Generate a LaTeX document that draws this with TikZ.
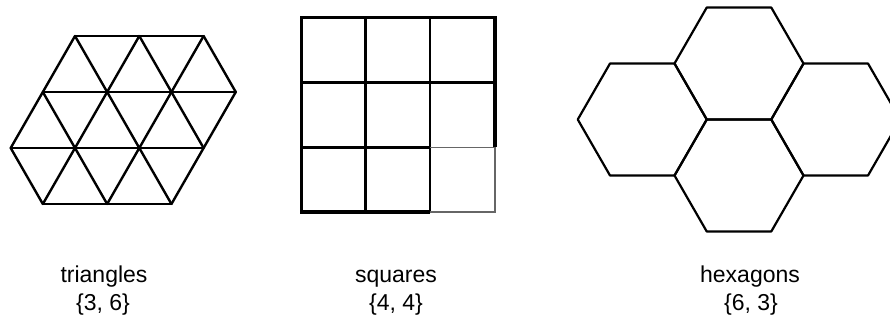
\documentclass[tikz,border=0pt]{standalone}
\usepackage{fontspec}
\setmainfont{Liberation Sans}
\begin{document}
\begin{tikzpicture}[x=1pt,y=-1pt,
  tri/.style={line width=2.4pt,line join=round,line cap=round},
  sqout/.style={line width=3.2pt,line join=miter},
  sqin/.style={line width=2.4pt},
  sqfaint/.style={line width=1.6pt,black!60},
  hexline/.style={line width=2.2pt,line join=round},
  lbl/.style={font=\fontsize{23}{28}\selectfont,anchor=base,inner sep=0pt}]
\useasboundingbox (0,0) rectangle (890,320);
\clip (0,0) rectangle (890,320);
% ---------- triangles {3,6}
\coordinate (A0) at (75,36);     \coordinate (A1) at (139.3,36);  \coordinate (A2) at (203.6,36);
\coordinate (B0) at (42.85,92);  \coordinate (B1) at (107.15,92); \coordinate (B2) at (171.45,92); \coordinate (B3) at (235.75,92);
\coordinate (C0) at (10.7,148);  \coordinate (C1) at (75,148);    \coordinate (C2) at (139.3,148); \coordinate (C3) at (203.6,148);
\coordinate (D0) at (42.85,204); \coordinate (D1) at (107.15,204); \coordinate (D2) at (171.45,204);
\draw[tri] (A0) -- (A2);
\draw[tri] (B0) -- (B3);
\draw[tri] (C0) -- (C3);
\draw[tri] (D0) -- (D2);
\draw[tri] (C0) -- (D0);
\draw[tri] (B0) -- (C1) -- (D1);
\draw[tri] (A0) -- (B1) -- (C2) -- (D2);
\draw[tri] (A1) -- (B2) -- (C3);
\draw[tri] (A2) -- (B3);
\draw[tri] (A0) -- (B0) -- (C0);
\draw[tri] (A1) -- (B1) -- (C1) -- (D0);
\draw[tri] (A2) -- (B2) -- (C2) -- (D1);
\draw[tri] (B3) -- (C3) -- (D2);
% ---------- squares {4,4}
\draw[sqin] (365.5,17.5) -- (365.5,212);
\draw[sqin] (430,17.5) -- (430,212);
\draw[sqin] (301.5,82.5) -- (495,82.5);
\draw[sqin] (301.5,147.5) -- (430,147.5);
\draw[sqfaint] (430,147.5) -- (495,147.5);
\draw[sqfaint] (495,147.5) -- (495,212) -- (430,212);
\draw[sqout] (430,212) -- (301.5,212) -- (301.5,17.5) -- (495,17.5) -- (495,147.5);
% ---------- hexagons {6,3}
\foreach \cx/\cy in {739/63.5, 739/175.5, 642.25/119.5, 835.75/119.5}{
  \draw[hexline] (\cx-64.5,\cy) -- (\cx-32.25,\cy-56) -- (\cx+32.25,\cy-56)
    -- (\cx+64.5,\cy) -- (\cx+32.25,\cy+56) -- (\cx-32.25,\cy+56) -- cycle;
}
% ---------- labels
\node[lbl] (t1) at (104,282) {triangles};
\node[lbl] (t2) at (103,310) {\{3, 6\}};
\node[lbl] (s1) at (396,282) {squares};
\node[lbl] (s2) at (396,310) {\{4, 4\}};
\node[lbl] (h1) at (750,282) {hexagons};
\node[lbl] (h2) at (751,310) {\{6, 3\}};
\end{tikzpicture}
\end{document}
